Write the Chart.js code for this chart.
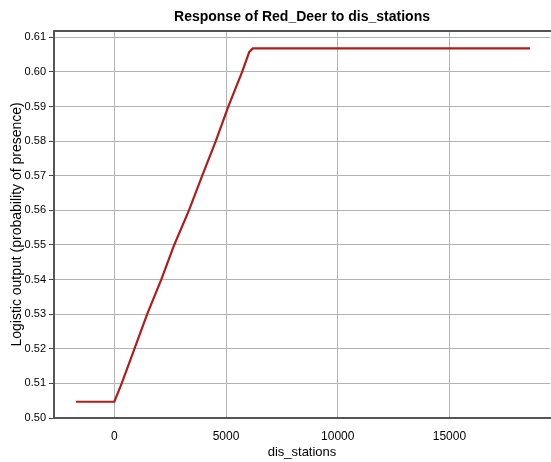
<!DOCTYPE html>
<html>
<head>
<meta charset="utf-8">
<script src="https://cdn.jsdelivr.net/npm/chart.js@4"></script>
<style>
  body { margin: 0; background: #fff; }
</style>
</head>
<body>
<canvas id="responseChart" width="551" height="462"></canvas>
<script>
"use strict";
// values
const xValues = [-1714, 0, 330, 900, 1470, 2100, 2680, 3340, 3930, 4540, 5100, 5720, 6040, 6200, 18608];
const yValues = [0.5047, 0.5047, 0.51, 0.52, 0.53, 0.54, 0.55, 0.56, 0.57, 0.58, 0.59, 0.60, 0.6058, 0.6068, 0.6068];
const xTicks = [0, 5000, 10000, 15000];
const yTicks = [0.50, 0.51, 0.52, 0.53, 0.54, 0.55, 0.56, 0.57, 0.58, 0.59, 0.60, 0.61];
const chartTitle = 'Response of Red_Deer to dis_stations';
const xLabel = 'dis_stations';
const yLabel = 'Logistic output (probability of presence)';

const fontFamily = "'Liberation Sans', Arial, sans-serif";
const points = xValues.map((x, i) => ({ x: x, y: yValues[i] }));

new Chart(document.getElementById('responseChart'), {
    type: 'scatter',
    data: {
        datasets: [{
            data: points,
            showLine: true,
            borderColor: '#b01c1c',
            borderWidth: 2.2,
            pointRadius: 0,
            tension: 0
        }]
    },
    options: {
        responsive: false,
        animation: false,
        layout: { padding: { left: 0, right: 1, top: 0, bottom: 0 } },
        plugins: {
            legend: { display: false },
            tooltip: { enabled: false },
            title: {
                display: true,
                fullSize: false,
                text: chartTitle,
                color: '#000',
                font: { family: fontFamily, size: 14, weight: 'bold' },
                padding: { top: 9, bottom: 5 }
            }
        },
        scales: {
            x: {
                type: 'linear',
                min: -2700,
                max: 19500,
                afterBuildTicks: (scale) => { scale.ticks = xTicks.map(v => ({ value: v })); },
                afterFit: (scale) => { scale.height = 44; },
                grid: { color: '#b4b4b4', tickLength: 8, tickColor: 'rgba(0,0,0,0)' },
                border: { color: '#555', width: 2 },
                ticks: {
                    color: '#000',
                    padding: 3,
                    font: { family: fontFamily, size: 12 },
                    callback: (v) => String(v)
                },
                title: {
                    display: true,
                    text: xLabel,
                    color: '#000',
                    font: { family: fontFamily, size: 13 },
                    padding: { top: 0, bottom: 2 }
                }
            },
            top: {
                type: 'linear',
                position: 'top',
                min: -2700,
                max: 19500,
                afterFit: (scale) => { scale.height = 0; },
                grid: { display: false, drawTicks: false },
                border: { color: '#555', width: 2 },
                ticks: { display: false }
            },
            y: {
                min: 0.50,
                max: 0.6119,
                afterBuildTicks: (scale) => { scale.ticks = yTicks.map(v => ({ value: v })); },
                afterFit: (scale) => { scale.width = 54; },
                grid: { color: '#b4b4b4', tickLength: 5, tickColor: '#444' },
                border: { color: '#555', width: 2 },
                ticks: {
                    color: '#000',
                    padding: 3,
                    font: { family: fontFamily, size: 11 },
                    callback: (v) => v.toFixed(2)
                },
                title: {
                    display: true,
                    text: yLabel,
                    color: '#000',
                    font: { family: fontFamily, size: 14 },
                    padding: { top: 9, bottom: 0 }
                }
            }
        }
    }
});
</script>
</body>
</html>
